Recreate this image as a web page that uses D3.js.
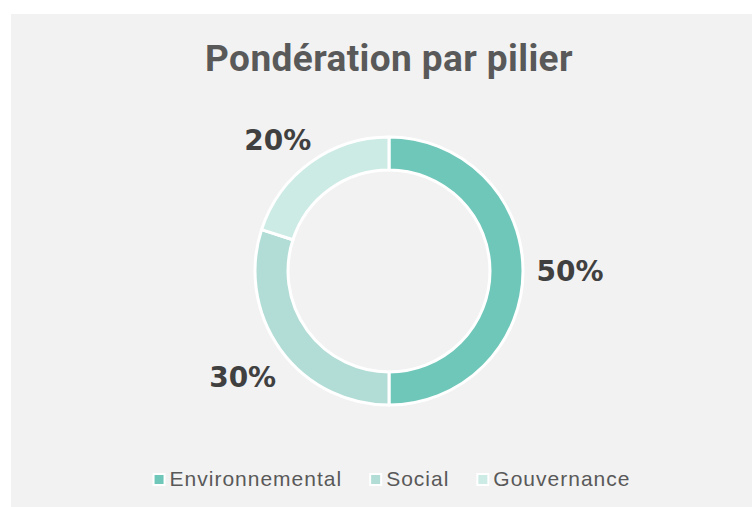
<!DOCTYPE html>
<html>
<head>
<meta charset="utf-8">
<script src="https://cdn.jsdelivr.net/npm/d3@7"></script>
<style>
  html, body { margin: 0; padding: 0; background: #fff; }
  svg { display: block; }
</style>
</head>
<body>
<svg></svg>
<script>
const svgWidth = 752;
const svgHeight = 507;

// data
const categories = ["Environnemental", "Social", "Gouvernance"];
const values = [50, 30, 20];
const colors = ["#6fc7ba", "#b2ddd6", "#cdebe5"];
const title = "Pondération par pilier";

const svg = d3.select("svg")
    .attr("width", svgWidth)
    .attr("height", svgHeight);

// chart area background
svg.append("rect")
    .attr("x", 11)
    .attr("y", 14)
    .attr("width", svgWidth - 11)
    .attr("height", svgHeight - 14)
    .attr("fill", "#f2f2f2");

svg.append("text")
    .attr("x", 389)
    .attr("y", 71)
    .attr("text-anchor", "middle")
    .attr("font-family", "Roboto, 'Liberation Sans', sans-serif")
    .attr("font-weight", 700)
    .attr("font-size", 37)
    .attr("letter-spacing", 0.4)
    .attr("fill", "#595959")
    .text(title);

const cx = 389, cy = 271;
const outerR = 134, innerR = 101;

const color = d3.scaleOrdinal().domain(categories).range(colors);

const pie = d3.pie().sort(null).value(d => d.value);
const arcs = pie(categories.map((c, i) => ({name: c, value: values[i]})));

const arc = d3.arc().innerRadius(innerR).outerRadius(outerR);

const g = svg.append("g").attr("transform", "translate(" + cx + "," + cy + ")");

g.selectAll("path")
    .data(arcs)
    .join("path")
    .attr("d", arc)
    .attr("fill", d => color(d.data.name))
    .attr("stroke", "#fff")
    .attr("stroke-width", 3)
    .attr("stroke-linejoin", "round");

// outside-end labels (kept inside the plot area at the top)
const labelGap = 148;
const hw = 33, hh = 10.5;
const plotTop = 129;
g.selectAll("text.lbl")
    .data(arcs)
    .join("text")
    .attr("class", "lbl")
    .attr("transform", d => {
        const a = (d.startAngle + d.endAngle) / 2;
        const dx = Math.sin(a), dy = -Math.cos(a);
        const r = labelGap + Math.abs(dx) * hw + Math.abs(dy) * hh;
        let x = dx * r, y = dy * r;
        const minY = plotTop - cy + hh;
        if (y < minY) {
            x += Math.sign(dx) * (minY - y) * Math.abs(dx / dy);
            y = minY;
        }
        return "translate(" + x + "," + y + ")";
    })
    .attr("text-anchor", "middle")
    .attr("dy", "0.36em")
    .attr("font-family", "'DejaVu Sans', sans-serif")
    .attr("font-weight", 700)
    .attr("font-size", 28)
    .attr("fill", "#404040")
    .text(d => d.data.value + "%");

// legend
const legend = svg.append("g");
const items = legend.selectAll("g")
    .data(categories)
    .join("g");

items.append("rect")
    .attr("x", 0)
    .attr("y", -12)
    .attr("width", 11)
    .attr("height", 11)
    .attr("fill", d => color(d))
    .attr("stroke", "#fff")
    .attr("stroke-width", 2);

items.append("text")
    .attr("x", 16)
    .attr("y", 0)
    .attr("font-family", "'Liberation Sans', Arial, sans-serif")
    .attr("font-size", 21)
    .attr("letter-spacing", 1)
    .attr("fill", "#595959")
    .text(d => d);

let xpos = 0;
const widths = [];
items.each(function() {
    widths.push(this.querySelector("text").getComputedTextLength());
});
const spacing = 28;
const total = d3.sum(widths) + widths.length * 16 + spacing * (widths.length - 1);
const startX = 392 - total / 2;
items.attr("transform", (d, i) => {
    const t = "translate(" + (startX + xpos) + ",486)";
    xpos += 16 + widths[i] + spacing;
    return t;
});
</script>
</body>
</html>
